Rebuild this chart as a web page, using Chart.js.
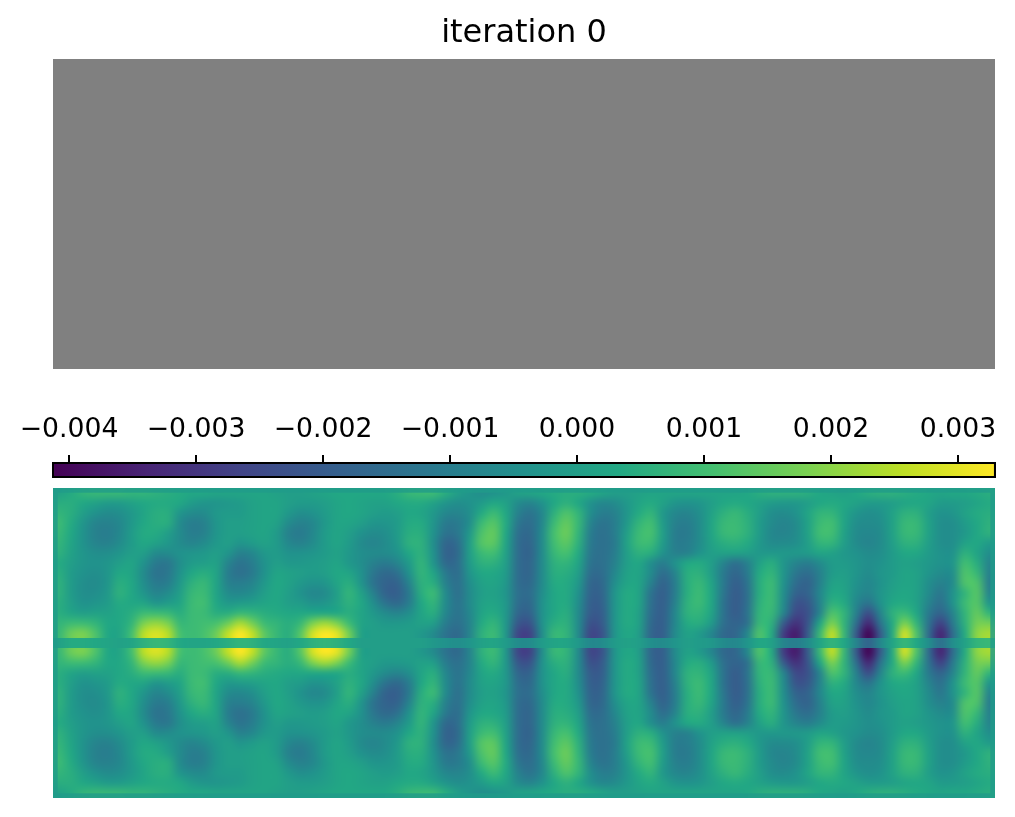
<!DOCTYPE html>
<html>
<head>
<meta charset="utf-8">
<title>iteration 0</title>
<script src="https://cdn.jsdelivr.net/npm/chart.js@4"></script>
<style>
    html, body { margin: 0; padding: 0; background: #fff; }
    canvas { position: absolute; }
</style>
</head>
<body>
<canvas id="latentChart" width="942" height="369" style="left:53px;top:0"></canvas>
<canvas id="colorbarChart" width="1015" height="80" style="left:0;top:400px"></canvas>
<canvas id="gradChart" width="942" height="310" style="left:53px;top:488px"></canvas>
<script>
const titleText = 'iteration 0';
const latentValues = [0];
const colorbarTicks = [-0.004, -0.003, -0.002, -0.001, 0, 0.001, 0.002, 0.003];
const colorMin = -0.004134;
const colorMax = 0.003299;
const viridisStops = ['#440154', '#482475', '#414487', '#355f8d', '#2a788e', '#21918c', '#22a884', '#44bf70', '#7ad151', '#bddf26', '#fde725'];

// values, in units of 0.0001, top edge down to the centre line
const upperRows = [
    [1,4,7,8,8,8, 7,7,6,5,4,3, 3,2,2,2,2,2, 1,0,0,1,2,3, 3,3,3,3,5,8, 9,9,5,0,-3,-5, -4,-2,1,2,3,4, 5,5,4,2,0,0, 1,2,2,2,2,2, 2,2,2,3,5,6, 6,6,5,3,2,1, 3,5,6,6,5,4, 3,2,3,3,4,5],
    [5,5,3,1,-1,-1, 1,3,4,4,3,-1, -3,-3,-2,-1,1,2, 2,0,-1,-1,0,2, 3,2,1,1,3,4, 4,1,-3,-5,-4,-1, 3,1,-6,-8,-4,3, 6,3,-4,-7,-6,-2, 2,4,1,-3,-4,-3, 0,3,4,3,1,-1, -2,-2,0,3,4,3, 1,-1,-1,0,2,3, 2,-1,-1,0,2,4],
    [7,5,0,-4,-6,-5, -2,2,5,5,-3,-6, -6,-2,-1,-1,1,2, 2,-2,-5,-4,-1,2, 3,2,0,-1,0,3, 2,-2,-7,-8,-5,4, 9,3,-9,-13,-7,6, 12,7,-5,-10,-9,-3, 4,7,-2,-7,-8,-5, 1,6,8,5,0,-5, -6,-4,2,7,7,2, -3,-5,-4,1,6,6, 0,-4,-3,1,4,5],
    [9,4,-3,-8,-9,-7, -2,3,5,5,-6,-10, -9,-3,0,0,1,2, 1,-6,-9,-7,-2,2, 2,0,-3,-3,-1,4, 4,-3,-11,-11,-5,9, 13,4,-12,-15,-7,9, 15,8,-8,-13,-10,-2, 7,10,-1,-9,-10,-6, 2,8,9,6,-1,-6, -8,-6,1,9,10,2, -5,-6,-5,1,8,8, 1,-5,-5,-1,3,6],
    [8,3,-4,-9,-10,-7, -1,4,4,0,-6,-10, -9,-3,0,0,1,2, -1,-9,-11,-7,-1,2, 0,-4,-6,-5,-1,5, 5,-4,-13,-12,-2,12, 15,3,-14,-16,-6,11, 16,7,-10,-14,-10,0, 9,11,0,-10,-11,-6, 2,8,9,6,-1,-7, -8,-6,1,10,10,1, -6,-7,-6,1,8,8, 1,-5,-5,-2,3,6],
    [7,2,-4,-8,-9,-6, -1,3,1,-2,-6,-8, -6,-2,0,-3,-1,1, -1,-7,-9,-6,-1,2, -1,-6,-8,-6,-2,6, 6,-5,-17,-15,0,13, 14,2,-15,-17,-6,10, 14,6,-11,-14,-11,1, 9,9,-1,-10,-10,-6, 1,5,6,4,-2,-6, -6,-5,0,7,7,0, -6,-8,-6,0,6,6, 0,-5,-5,1,3,-1],
    [6,1,-3,-5,-5,-3, 0,0,-6,-6,-4,-3, -2,0,-3,-9,-7,-2, -1,-4,-4,-3,-1,1, -2,-5,-6,-6,-4,3, 6,-4,-18,-16,0,9, 10,1,-15,-18,-6,8, 11,4,-12,-14,-10,0, 6,5,-4,-9,-9,-4, 0,1,1,0,-2,-2, -2,-2,-1,2,1,-2, -4,-6,-5,-1,3,3, -1,-4,-4,6,2,-5],
    [4,0,-3,-4,-3,0, 2,-4,-11,-12,-5,-1, 0,1,-8,-13,-10,-4, 0,-2,-2,-1,0,2, -2,-5,-9,-11,-8,-1, 7,-3,-16,-15,-1,6, 6,0,-15,-17,-6,6, 7,2,-13,-14,-9,0, 3,-5,-10,-4,3,4, 0,-8,-14,-9,1,5, -3,-8,-10,-6,-1,-1, -3,-5,-4,-1,1,0, -2,-4,-3,10,5,-8],
    [5,-1,-4,-5,-3,3, 2,-6,-13,-12,-4,3, 5,2,-10,-14,-11,-4, 2,1,0,-1,0,3, 2,-4,-12,-16,-14,-4, 7,2,-11,-15,-3,3, 3,-1,-15,-17,-6,5, 5,0,-15,-15,-7,1, 2,-6,-15,-8,5,6, 0,-11,-17,-11,4,7, -3,-12,-15,-9,-1,0, -3,-6,-3,-1,2,1, -3,-6,-5,12,8,-9],
    [6,-1,-5,-6,-3,5, 3,-5,-11,-10,-2,6, 8,2,-9,-10,-8,-2, 3,1,-2,-4,-3,2, 5,-3,-13,-18,-18,-8, 6,5,-9,-14,-5,1, 2,-2,-15,-16,-6,4, 4,-2,-17,-16,-5,2, 2,-9,-18,-10,5,8, 2,-11,-19,-13,5,9, -4,-15,-18,-9,1,1, -4,-7,-4,0,2,1, -5,-9,-6,12,12,-10],
    [6,-1,-5,-5,-2,6, 3,-3,-8,-6,0,8, 9,2,-6,-7,-5,0, 3,0,-4,-7,-6,0, 7,1,-9,-18,-19,-11, 5,9,-6,-14,-6,0, 1,-3,-14,-15,-5,3, 4,-4,-18,-17,-3,4, 2,-13,-19,-10,5,9, 3,-12,-20,-14,5,9, -5,-18,-18,-7,3,2, -5,-8,-3,1,3,1, -6,-12,-4,7,13,-8],
    [5,0,-4,-3,-1,4, 3,2,-3,-1,2,9, 10,3,-2,-1,0,2, 3,0,-1,-4,-3,1, 6,3,-5,-13,-16,-10, 3,7,-6,-13,-6,1, 2,-2,-15,-16,-4,3, 4,-5,-19,-18,-3,4, 2,-14,-19,-9,6,9, 3,-13,-20,-14,6,9, -6,-22,-21,-8,6,4, -7,-13,-4,3,4,1, -8,-14,-4,9,13,-3],
    [5,2,0,1,1,3, 5,9,9,8,5,9, 9,5,5,8,7,5, 4,3,3,3,3,3, 5,2,-2,-6,-8,-5, 2,5,-7,-13,-7,2, 4,-2,-17,-18,-4,3, 5,-6,-20,-19,-3,4, 1,-15,-19,-7,6,7, 2,-13,-20,-13,7,8, -8,-25,-23,-8,12,7, -9,-24,-8,6,9,3, -11,-18,-8,7,15,7],
    [7,9,9,7,3,3, 7,18,21,18,8,9, 10,11,16,23,17,9, 7,5,8,18,22,18, 9,2,0,-2,-2,-1, 1,0,-10,-14,-8,4, 7,-2,-21,-22,-4,5, 6,-6,-23,-20,-3,4, 1,-16,-19,-7,4,5, -1,-14,-18,-14,8,6, -20,-31,-22,2,18,7, -14,-33,-13,4,18,7, -13,-27,-11,6,17,17],
    [8,16,18,12,3,2, 10,25,29,25,11,9, 11,16,26,33,26,14, 8,5,13,28,33,30, 17,1,0,0,0,0, -2,-6,-13,-16,-8,6, 9,-2,-26,-27,-5,8, 7,-6,-26,-22,-3,3, 0,-17,-19,-6,1,-1, -7,-16,-17,-7,12,4, -28,-36,-20,8,26,8, -20,-41,-20,4,28,12, -15,-34,-15,4,20,23]
];
// the thin band on the centre line
const centreRow = [1,4,4,3,2,1, 2,6,8,7,3,2, 2,3,5,7,6,3, 2,1,3,6,7,6, 3,0,0,0,0,0, 0,-2,-4,-5,-3,1, 2,-1,-6,-6,-1,2, 2,-2,-7,-6,-1,1, 0,-5,-6,-3,0,-1, -2,-6,-7,-3,3,1, -8,-10,-6,2,7,3, -8,-18,-7,2,8,3, -5,-14,-5,1,7,8];
// the field is mirrored about the centre line
const gradRows = [...upperRows, centreRow, ...upperRows.slice().reverse()];
const edgeValue = -1;
const valueUnit = 0.0001;

function viridis(value) {
    const t = Math.min(1, Math.max(0, (value - colorMin) / (colorMax - colorMin))) * (viridisStops.length - 1);
    const i = Math.min(Math.floor(t), viridisStops.length - 2);
    const rgb = s => [1, 3, 5].map(k => parseInt(s.slice(k, k + 2), 16));
    const a = rgb(viridisStops[i]), b = rgb(viridisStops[i + 1]);
    const c = a.map((v, k) => Math.round(v + (b[k] - v) * (t - i)));
    return `rgb(${c[0]},${c[1]},${c[2]})`;
}

Chart.defaults.font.family = '"DejaVu Sans"';
Chart.defaults.color = '#000';
Chart.defaults.animation = false;
Chart.defaults.responsive = false;

// Painel superior
new Chart(document.getElementById('latentChart'), {
    type: 'bar',
    data: {
        labels: [''],
        datasets: [{ data: latentValues, base: 1, backgroundColor: '#808080', barPercentage: 1, categoryPercentage: 1 }]
    },
    options: {
        layout: { padding: 0 },
        plugins: {
            legend: { display: false },
            tooltip: { enabled: false },
            title: {
                display: true,
                text: titleText,
                color: '#000',
                font: { size: 32, weight: 'normal', lineHeight: 1.2 },
                padding: { top: 14, bottom: 6.6 }
            }
        },
        scales: {
            x: { display: false },
            y: { display: false, min: 0, max: 1 }
        }
    }
});

// Barra de cores
new Chart(document.getElementById('colorbarChart'), {
    type: 'bar',
    data: {
        labels: [''],
        datasets: [{
            data: [[colorMin, colorMax]],
            backgroundColor: ctx => {
                const area = ctx.chart.chartArea;
                if (!area) return '#21918c';
                const g = ctx.chart.ctx.createLinearGradient(area.left, 0, area.right, 0);
                viridisStops.forEach((c, i) => g.addColorStop(i / (viridisStops.length - 1), c));
                return g;
            },
            borderColor: '#000',
            borderWidth: 2.4,
            borderSkipped: false,
            barPercentage: 1,
            categoryPercentage: 1
        }]
    },
    options: {
        indexAxis: 'y',
        layout: { padding: { left: 52, right: 19, top: 5, bottom: 2 } },
        plugins: { legend: { display: false }, tooltip: { enabled: false } },
        scales: {
            x: {
                position: 'top',
                min: colorMin,
                max: colorMax,
                afterBuildTicks: axis => { axis.ticks = colorbarTicks.map(value => ({ value })); },
                afterFit: axis => { axis.height = 57; },
                ticks: {
                    autoSkip: false,
                    maxRotation: 0,
                    padding: 9,
                    color: '#000',
                    font: { size: 26.67 },
                    callback: v => v.toFixed(3).replace('-', '\u2212')
                },
                grid: { drawOnChartArea: false, tickLength: 7, tickColor: '#000', lineWidth: 2 },
                border: { display: false }
            },
            y: { display: false }
        }
    }
});

// Campo inferior: each band is painted once per cell, then scaled onto the axes with smoothing
const smoothCells = {
    id: 'smoothCells',
    beforeDatasetsDraw(chart) {
        const { x, y } = chart.scales;
        const ctx = chart.ctx;
        const cells = chart.data.datasets[0].data;
        const cols = gradRows[0].length;
        const left = x.getPixelForValue(-0.5);
        const right = x.getPixelForValue(cols - 0.5);
        const bands = [[0, upperRows.length], [upperRows.length, upperRows.length + 1], [upperRows.length + 1, gradRows.length]];
        bands.forEach(([from, to]) => {
            const off = document.createElement('canvas');
            off.width = cols;
            off.height = to - from;
            const o = off.getContext('2d');
            cells.forEach(c => {
                const row = c.y - 0.5;
                if (row < from || row >= to) return;
                o.fillStyle = viridis(c.v);
                o.fillRect(c.x, row - from, 1, 1);
            });
            const top = y.getPixelForValue(from);
            ctx.imageSmoothingEnabled = true;
            ctx.imageSmoothingQuality = 'high';
            ctx.drawImage(off, left, top, right - left, y.getPixelForValue(to) - top);
        });
        // thin rim around the field
        const top = y.getPixelForValue(0);
        const bottom = y.getPixelForValue(gradRows.length);
        ctx.strokeStyle = viridis(edgeValue * valueUnit);
        ctx.globalAlpha = 0.8;
        ctx.lineWidth = 4.7;
        ctx.strokeRect(left + 2.35, top + 2.35, right - left - 4.7, bottom - top - 4.7);
        ctx.globalAlpha = 1;
    }
};

const gradCells = [];
gradRows.forEach((row, r) => row.forEach((v, c) => gradCells.push({ x: c, y: r + 0.5, v: v * valueUnit })));

new Chart(document.getElementById('gradChart'), {
    type: 'scatter',
    data: { datasets: [{ data: gradCells, pointRadius: 0 }] },
    options: {
        layout: { padding: 0 },
        plugins: { legend: { display: false }, tooltip: { enabled: false } },
        scales: {
            x: { display: false, min: -0.5, max: gradRows[0].length - 0.5 },
            y: { display: false, reverse: true, min: 0, max: gradRows.length }
        }
    },
    plugins: [smoothCells]
});
</script>
</body>
</html>
